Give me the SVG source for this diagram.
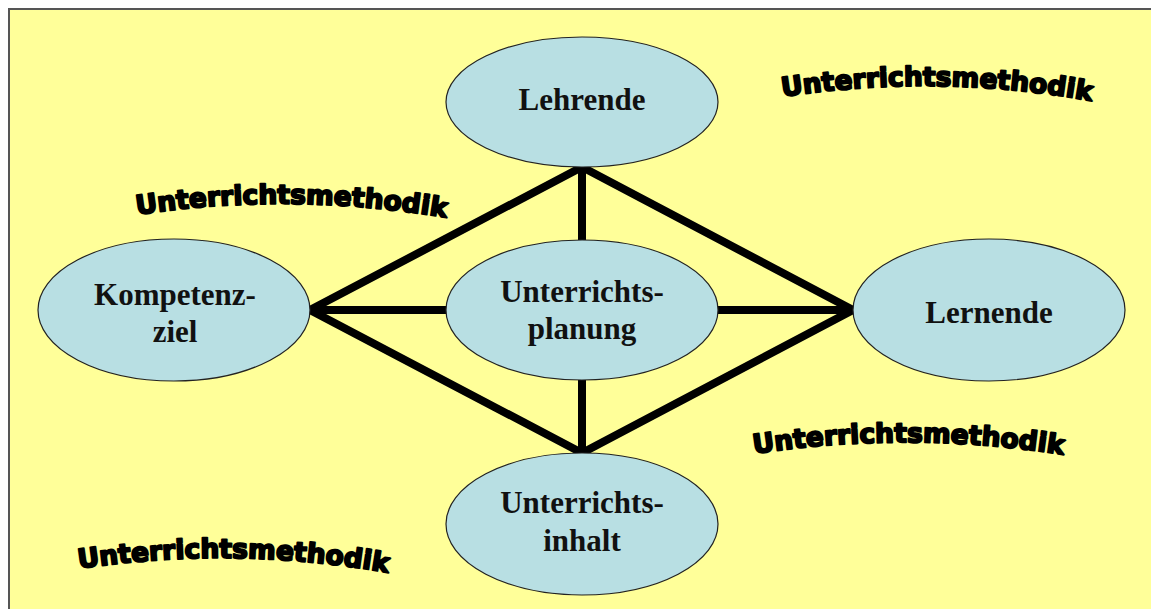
<svg xmlns="http://www.w3.org/2000/svg" xmlns:xlink="http://www.w3.org/1999/xlink" width="1151" height="609" viewBox="0 0 1151 609">
<style>
.node ellipse{fill:#B8DFE3;stroke:#222;stroke-width:1.2}
.lbl{font-family:"Liberation Serif","Times New Roman",serif;font-weight:bold;font-size:31px;fill:#111;text-anchor:middle}
.conn{stroke:#000;stroke-width:8;fill:none;stroke-linejoin:miter;stroke-linecap:butt}
.wa{font-family:"DejaVu Sans",sans-serif;font-weight:bold;font-size:26.5px;fill:#000;stroke:#000;stroke-width:2;stroke-linejoin:round}
</style>
<defs>
<path id="arc1" d="M 782 97 Q 937 73 1092 101"/>
<path id="arc2" d="M 135 215 Q 291 191 448 218"/>
<path id="arc3" d="M 752 454 Q 908 430 1065 455"/>
<path id="arc4" d="M 77 569 Q 233 545 390 573"/>
</defs>
<rect x="9" y="9" width="1150" height="610" fill="#FFFF99" stroke="#555" stroke-width="2"/>
<g id="connectors">
<path class="conn" d="M 582 167 L 853 310 L 582 453 L 310 310 Z"/>
<line class="conn" x1="582" y1="167" x2="582" y2="240"/>
<line class="conn" x1="310" y1="310" x2="446" y2="310"/>
<line class="conn" x1="718" y1="310" x2="853" y2="310"/>
<line class="conn" x1="582" y1="380" x2="582" y2="453"/>
</g>
<g id="lehrende" class="node"><ellipse cx="582" cy="102" rx="136" ry="65"/><text class="lbl" x="582" y="110">Lehrende</text></g>
<g id="kompetenzziel" class="node"><ellipse cx="174" cy="310" rx="136" ry="71"/><text class="lbl" x="175" y="305">Kompetenz-</text><text class="lbl" x="175" y="342">ziel</text></g>
<g id="planung" class="node"><ellipse cx="582" cy="310" rx="136" ry="70"/><text class="lbl" x="582" y="302">Unterrichts-</text><text class="lbl" x="582" y="339">planung</text></g>
<g id="lernende" class="node"><ellipse cx="989" cy="310" rx="136" ry="71"/><text class="lbl" x="989" y="323">Lernende</text></g>
<g id="inhalt" class="node"><ellipse cx="582" cy="524" rx="136" ry="71"/><text class="lbl" x="582" y="513">Unterrichts-</text><text class="lbl" x="582" y="551">inhalt</text></g>
<g id="wordart">
<text class="wa"><textPath xlink:href="#arc1" href="#arc1" startOffset="50%" text-anchor="middle">Unterrichtsmethodik</textPath></text>
<text class="wa"><textPath xlink:href="#arc2" href="#arc2" startOffset="50%" text-anchor="middle">Unterrichtsmethodik</textPath></text>
<text class="wa"><textPath xlink:href="#arc3" href="#arc3" startOffset="50%" text-anchor="middle">Unterrichtsmethodik</textPath></text>
<text class="wa"><textPath xlink:href="#arc4" href="#arc4" startOffset="50%" text-anchor="middle">Unterrichtsmethodik</textPath></text>
</g>
</svg>
